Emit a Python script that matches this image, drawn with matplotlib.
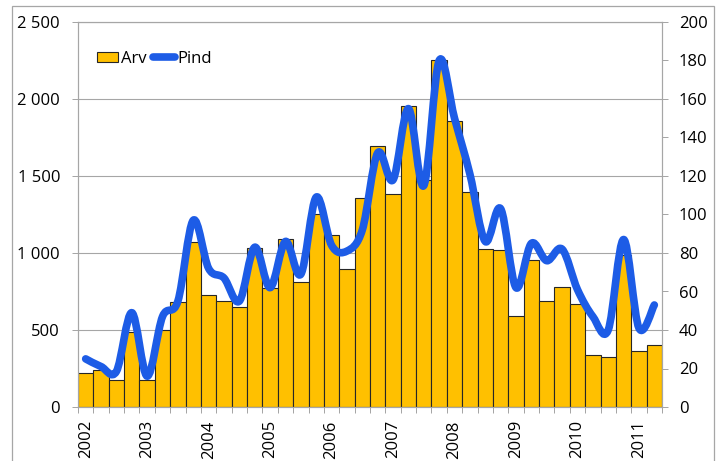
import matplotlib.pyplot as plt
import numpy as np
from matplotlib.path import Path
from matplotlib.patches import PathPatch, Rectangle
from matplotlib.lines import Line2D

# quarterly values, 2002 Q1 .. 2011 Q2
arv = [220, 240, 175, 485, 173, 500, 680, 1070, 730, 686, 647, 1035,
       770, 1093, 810, 1251, 1115, 898, 1359, 1695, 1383, 1955, 1474, 2254,
       1858, 1396, 1024, 1018, 594, 955, 689, 780, 668, 337, 324, 990,
       363, 404]
pind = [25, 21, 18.5, 49, 16, 47, 55, 97, 72, 67, 55, 83,
        62, 86, 69, 109, 84, 81, 92, 132, 118, 155, 115, 180,
        150, 121, 86, 103, 62, 85, 76, 82, 61, 47, 40, 87,
        41, 53]
years = ['2002', '2003', '2004', '2005', '2006', '2007', '2008', '2009', '2010', '2011']
left_ticks = [0, 500, 1000, 1500, 2000, 2500]
left_labels = ['0', '500', '1 000', '1 500', '2 000', '2 500']
right_ticks = [0, 20, 40, 60, 80, 100, 120, 140, 160, 180, 200]

plt.rcParams['font.family'] = ['Open Sans', 'DejaVu Sans']
plt.rcParams['font.size'] = 12

GRAY = '#A6A6A6'
BAR = '#FFC000'
BLUE = '#1D5CE6'

fig = plt.figure(figsize=(7.24, 4.61), dpi=100)
ax = fig.add_axes([78 / 724, 1 - 407 / 461, 584 / 724, 385 / 461])
ax2 = ax.twinx()

x = np.arange(len(arv))
ax.bar(x, arv, width=1.0, color=BAR, edgecolor='#262626', linewidth=0.8, zorder=2)

# smoothed line (Catmull-Rom style bezier, as Excel does)
n = len(pind)
pts = np.column_stack([x, pind]).astype(float)
verts = [tuple(pts[0])]
codes = [Path.MOVETO]
for i in range(n - 1):
    p_prev = pts[max(i - 1, 0)]
    p0 = pts[i]
    p1 = pts[i + 1]
    p_next = pts[min(i + 2, n - 1)]
    c1 = p0 + (p1 - p_prev) / 6
    c2 = p1 - (p_next - p0) / 6
    verts += [tuple(c1), tuple(c2), tuple(p1)]
    codes += [Path.CURVE4] * 3
ax2.add_patch(PathPatch(Path(verts, codes), facecolor='none', edgecolor=BLUE,
                        linewidth=5.5, capstyle='round', joinstyle='round', zorder=3))

ax.set_xlim(-0.5, len(arv) - 0.5)
ax.set_ylim(0, 2500)
ax2.set_ylim(0, 200)

ax.set_yticks(left_ticks)
ax.set_yticklabels(left_labels)
ax2.set_yticks(right_ticks)

ax.set_xticks(np.arange(0, len(arv), 4))
ax.set_xticklabels(years, rotation=90)
ax.set_xticks(np.arange(-0.5, len(arv), 1), minor=True)
ax.tick_params(axis='x', which='major', length=0, pad=9.5)
ax.tick_params(axis='x', which='minor', length=4.3, width=0.72, color=GRAY)
ax.tick_params(axis='y', length=4.3, width=0.72, color=GRAY, pad=8.6)
ax2.tick_params(axis='y', length=4.3, width=0.72, color=GRAY, pad=7.9)

ax.yaxis.grid(True, color=GRAY, linewidth=0.8)
ax.set_axisbelow(True)
for a in (ax, ax2):
    for s in a.spines.values():
        s.set_color(GRAY)
        s.set_linewidth(0.8)

handles = [Rectangle((0, 0), 1, 1, facecolor=BAR, edgecolor='#262626', linewidth=0.8),
           Line2D([], [], color=BLUE, linewidth=5.5, solid_capstyle='round')]
ax.legend(handles, ['Arv', 'Pind'], loc='center left', bbox_to_anchor=(0.032, 0.904),
          ncol=2, frameon=False, borderpad=0, borderaxespad=0, handlelength=1.3,
          handleheight=0.6, handletextpad=0.15, columnspacing=0.4)

fig.patches.append(Rectangle((12 / 724, -0.05), 702 / 724, 1.05 - 6 / 461,
                             transform=fig.transFigure, fill=False,
                             edgecolor=GRAY, linewidth=0.9))

fig.savefig('out.png', dpi=100)
